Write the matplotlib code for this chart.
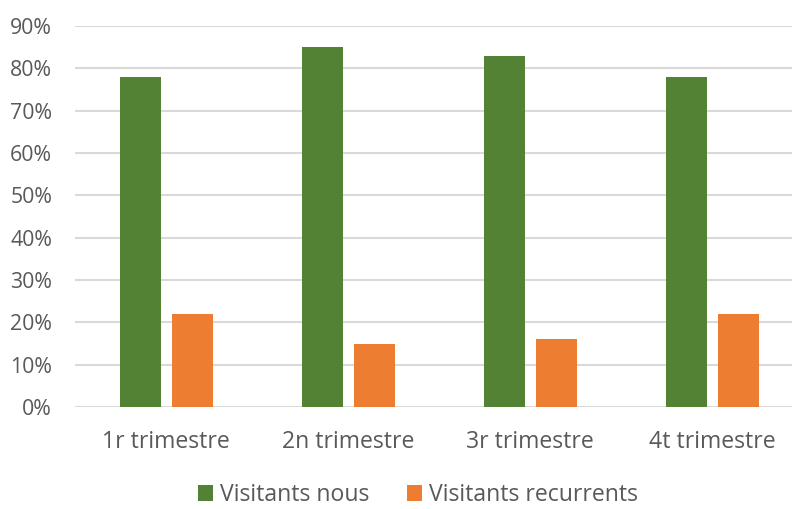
import matplotlib.pyplot as plt
import numpy as np
from matplotlib.ticker import FuncFormatter

# Data
quarters = ["1r trimestre", "2n trimestre", "3r trimestre", "4t trimestre"]
new_visitors = [0.78, 0.85, 0.83, 0.78]
returning_visitors = [0.22, 0.15, 0.16, 0.22]
series_names = ["Visitants nous", "Visitants recurrents"]

green = "#548235"
orange = "#ed7d31"
text_grey = "#595959"

plt.rcParams['font.family'] = ['Open Sans', 'DejaVu Sans']

W, H = 792, 509
fig = plt.figure(figsize=(W / 100, H / 100), dpi=100)
# axes placed in pixel coordinates of the reference
left, right, top, bottom = 75, 792, 26, 407
ax = fig.add_axes([left / W, 1 - bottom / H, (right - left) / W, (bottom - top) / H])

x = np.arange(len(quarters))
group_px = 182.0
bar_w = 41 / group_px
offset = 26 / group_px

ax.bar(x - offset, new_visitors, width=bar_w, color=green, label=series_names[0], zorder=3)
ax.bar(x + offset, returning_visitors, width=bar_w, color=orange, label=series_names[1], zorder=3)

ax.set_xlim(-0.5, -0.5 + (right - left) / group_px)
ax.set_ylim(0, 0.9)
ax.set_yticks(np.arange(0, 0.91, 0.1))
ax.yaxis.set_major_formatter(FuncFormatter(lambda v, p: f"{v * 100:.0f}%"))
ax.set_xticks(x)
ax.set_xticklabels(quarters)

ax.grid(axis="y", color="#d9d9d9", linewidth=1.5, zorder=0)
for s in ax.spines.values():
    s.set_visible(False)
ax.tick_params(axis="both", length=0, colors=text_grey)
ax.tick_params(axis="y", pad=16.5, labelsize=15.3)
ax.tick_params(axis="x", pad=16.5, labelsize=16.6)

leg = fig.legend(loc="center", bbox_to_anchor=(418 / W, 1 - 495 / H), ncol=2,
                 frameon=False, borderpad=0.2, fontsize=16.6, handlelength=0.65,
                 handleheight=0.65, handletextpad=0.3, columnspacing=1.65)
for t in leg.get_texts():
    t.set_color(text_grey)

fig.savefig("out.png", dpi=100)
